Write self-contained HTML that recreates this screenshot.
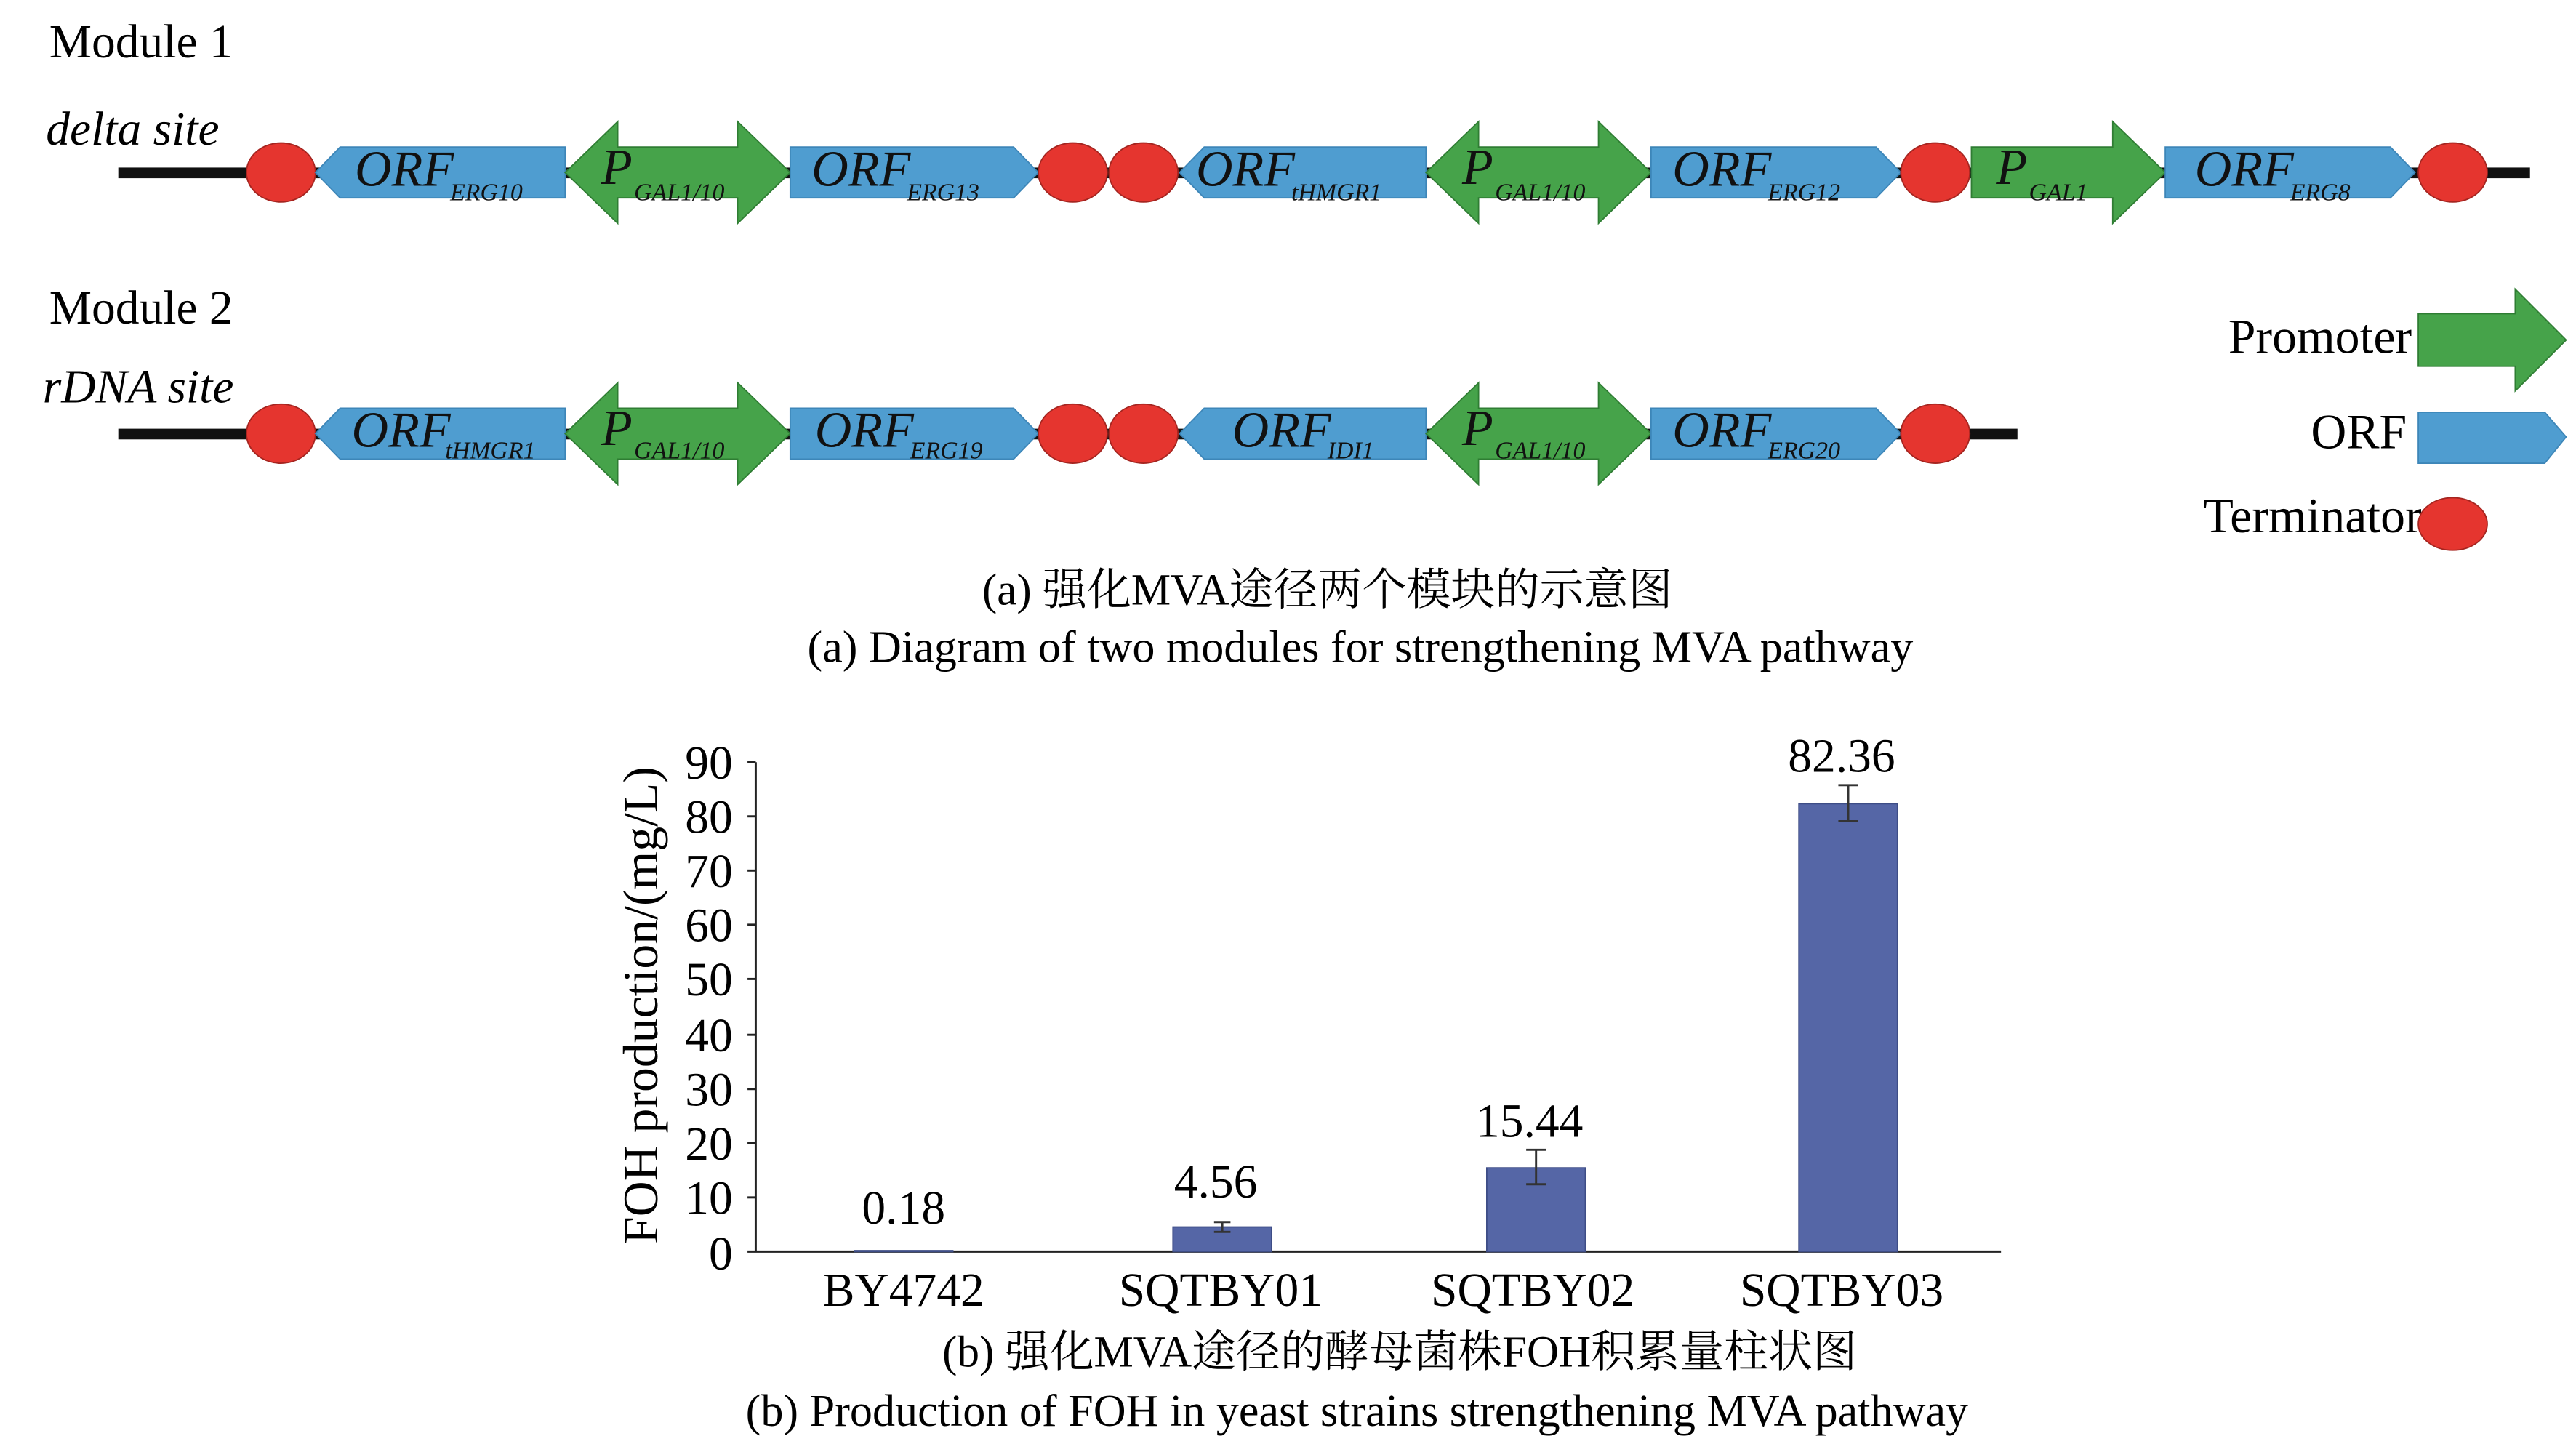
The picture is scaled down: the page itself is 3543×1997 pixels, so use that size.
<!DOCTYPE html>
<html><head><meta charset="utf-8"><style>html,body{margin:0;padding:0;background:#fff}svg{display:block}</style></head>
<body>
<svg width="3543" height="1997" viewBox="0 0 1568 884" preserveAspectRatio="none" xmlns="http://www.w3.org/2000/svg" font-family="'Liberation Serif','Noto Serif CJK SC',serif">
<defs>
<style>
.o{fill:#4f9dd0;stroke:#3d86b8;stroke-width:0.8}
.p{fill:#46a34a;stroke:#2f7d33;stroke-width:0.8}
.t{fill:#e5352f;stroke:#a52520;stroke-width:0.8}
.lab{font-style:italic;font-size:31px;fill:#111}
.sub{font-style:italic;font-size:15px;fill:#111}
</style>
</defs>
<rect width="1568" height="884" fill="#fff"/>
<text x="30" y="35" font-size="29">Module 1</text>
<text x="28" y="88" font-size="29" font-style="italic">delta site</text>
<text x="30" y="197" font-size="29">Module 2</text>
<text x="26" y="245" font-size="29" font-style="italic">rDNA site</text>

<!-- Module 1 -->
<rect x="72" y="102" width="1468" height="6.5" fill="#111"/>
<ellipse class="t" cx="171" cy="105" rx="21" ry="18"/>
<polygon class="o" points="192,105 207,89.5 344,89.5 344,120.5 207,120.5"/>
<text class="lab" x="216" y="113">ORF</text><text class="sub" x="274" y="122">ERG10</text>
<polygon class="p" points="344,105 376,74 376,89.5 449,89.5 449,74 481,105 449,136 449,120.5 376,120.5 376,136"/>
<text class="lab" x="366" y="112">P</text><text class="sub" x="386" y="122">GAL1/10</text>
<polygon class="o" points="481,89.5 617,89.5 632,105 617,120.5 481,120.5"/>
<text class="lab" x="494" y="113">ORF</text><text class="sub" x="552" y="122">ERG13</text>
<ellipse class="t" cx="653" cy="105" rx="21" ry="18"/>
<ellipse class="t" cx="696" cy="105" rx="21" ry="18"/>
<polygon class="o" points="718,105 733,89.5 868,89.5 868,120.5 733,120.5"/>
<text class="lab" x="728" y="113">ORF</text><text class="sub" x="786" y="122">tHMGR1</text>
<polygon class="p" points="868,105 900,74 900,89.5 973,89.5 973,74 1005,105 973,136 973,120.5 900,120.5 900,136"/>
<text class="lab" x="890" y="112">P</text><text class="sub" x="910" y="122">GAL1/10</text>
<polygon class="o" points="1005,89.5 1142,89.5 1157,105 1142,120.5 1005,120.5"/>
<text class="lab" x="1018" y="113">ORF</text><text class="sub" x="1076" y="122">ERG12</text>
<ellipse class="t" cx="1178" cy="105" rx="21" ry="18"/>
<polygon class="p" points="1200,89.5 1286,89.5 1286,74 1318,105 1286,136 1286,120.5 1200,120.5"/>
<text class="lab" x="1215" y="112">P</text><text class="sub" x="1235" y="122">GAL1</text>
<polygon class="o" points="1318,89.5 1455,89.5 1470,105 1455,120.5 1318,120.5"/>
<text class="lab" x="1336" y="113">ORF</text><text class="sub" x="1394" y="122">ERG8</text>
<ellipse class="t" cx="1493" cy="105" rx="21" ry="18"/>

<!-- Module 2 -->
<rect x="72" y="261" width="1156" height="6.5" fill="#111"/>
<ellipse class="t" cx="171" cy="264" rx="21" ry="18"/>
<polygon class="o" points="192,264 207,248.5 344,248.5 344,279.5 207,279.5"/>
<text class="lab" x="214" y="272">ORF</text><text class="sub" x="271" y="279">tHMGR1</text>
<polygon class="p" points="344,264 376,233 376,248.5 449,248.5 449,233 481,264 449,295 449,279.5 376,279.5 376,295"/>
<text class="lab" x="366" y="271">P</text><text class="sub" x="386" y="279">GAL1/10</text>
<polygon class="o" points="481,248.5 617,248.5 632,264 617,279.5 481,279.5"/>
<text class="lab" x="496" y="272">ORF</text><text class="sub" x="554" y="279">ERG19</text>
<ellipse class="t" cx="653" cy="264" rx="21" ry="18"/>
<ellipse class="t" cx="696" cy="264" rx="21" ry="18"/>
<polygon class="o" points="718,264 733,248.5 868,248.5 868,279.5 733,279.5"/>
<text class="lab" x="750" y="272">ORF</text><text class="sub" x="808" y="279">IDI1</text>
<polygon class="p" points="868,264 900,233 900,248.5 973,248.5 973,233 1005,264 973,295 973,279.5 900,279.5 900,295"/>
<text class="lab" x="890" y="271">P</text><text class="sub" x="910" y="279">GAL1/10</text>
<polygon class="o" points="1005,248.5 1142,248.5 1157,264 1142,279.5 1005,279.5"/>
<text class="lab" x="1018" y="272">ORF</text><text class="sub" x="1076" y="279">ERG20</text>
<ellipse class="t" cx="1178" cy="264" rx="21" ry="18"/>

<!-- Legend -->
<text x="1468" y="215" font-size="30" text-anchor="end">Promoter</text>
<polygon class="p" points="1472,191 1531,191 1531,176 1562,207 1531,238 1531,223 1472,223"/>
<text x="1465" y="273" font-size="30" text-anchor="end">ORF</text>
<polygon class="o" points="1472,251 1549,251 1562,266 1549,282 1472,282"/>
<text x="1474" y="324" font-size="30" text-anchor="end">Terminator</text>
<ellipse class="t" cx="1493" cy="319" rx="21" ry="16"/>

<text x="808" y="368" font-size="27" text-anchor="middle">(a)  强化MVA途径两个模块的示意图</text>
<text x="828" y="403" font-size="27.5" text-anchor="middle">(a)  Diagram of two modules for strengthening MVA pathway</text>

<!-- Chart -->
<g stroke="#222" stroke-width="1.3" fill="none">
<line x1="460" y1="464" x2="460" y2="762"/>
<line x1="455" y1="762" x2="1218" y2="762"/>
<line x1="455" y1="464" x2="460" y2="464"/><line x1="455" y1="497" x2="460" y2="497"/>
<line x1="455" y1="530" x2="460" y2="530"/><line x1="455" y1="563" x2="460" y2="563"/>
<line x1="455" y1="596" x2="460" y2="596"/><line x1="455" y1="630" x2="460" y2="630"/>
<line x1="455" y1="663" x2="460" y2="663"/><line x1="455" y1="696" x2="460" y2="696"/>
<line x1="455" y1="729" x2="460" y2="729"/>
</g>
<g font-size="29" text-anchor="end">
<text x="446" y="474">90</text><text x="446" y="507">80</text><text x="446" y="540">70</text>
<text x="446" y="573">60</text><text x="446" y="606">50</text><text x="446" y="640">40</text>
<text x="446" y="673">30</text><text x="446" y="706">20</text><text x="446" y="739">10</text>
<text x="446" y="773">0</text>
</g>
<text transform="translate(400,612) rotate(-90)" font-size="30" text-anchor="middle">FOH production/(mg/L)</text>

<g fill="#5566a6" stroke="#3e4d86" stroke-width="0.8">
<rect x="520" y="761.4" width="60" height="0.6"/>
<rect x="714" y="747" width="60" height="15"/>
<rect x="905" y="711" width="60" height="51"/>
<rect x="1095" y="489.3" width="60" height="272.7"/>
</g>
<g stroke="#333" stroke-width="1.3">
<line x1="744" y1="744" x2="744" y2="750"/><line x1="739" y1="744" x2="749" y2="744"/><line x1="739" y1="750" x2="749" y2="750"/>
<line x1="935" y1="700" x2="935" y2="721"/><line x1="929" y1="700" x2="941" y2="700"/><line x1="929" y1="721" x2="941" y2="721"/>
<line x1="1125" y1="478" x2="1125" y2="500"/><line x1="1119" y1="478" x2="1131" y2="478"/><line x1="1119" y1="500" x2="1131" y2="500"/>
</g>
<g font-size="29" text-anchor="middle">
<text x="550" y="745">0.18</text>
<text x="740" y="729">4.56</text>
<text x="931" y="692">15.44</text>
<text x="1121" y="470">82.36</text>
<text x="550" y="795">BY4742</text>
<text x="743" y="795">SQTBY01</text>
<text x="933" y="795">SQTBY02</text>
<text x="1121" y="795">SQTBY03</text>
</g>
<text x="852" y="832" font-size="27" text-anchor="middle">(b)  强化MVA途径的酵母菌株FOH积累量柱状图</text>
<text x="826" y="868" font-size="27.5" text-anchor="middle">(b)  Production of FOH in yeast strains strengthening MVA pathway</text>
</svg>
</body></html>
